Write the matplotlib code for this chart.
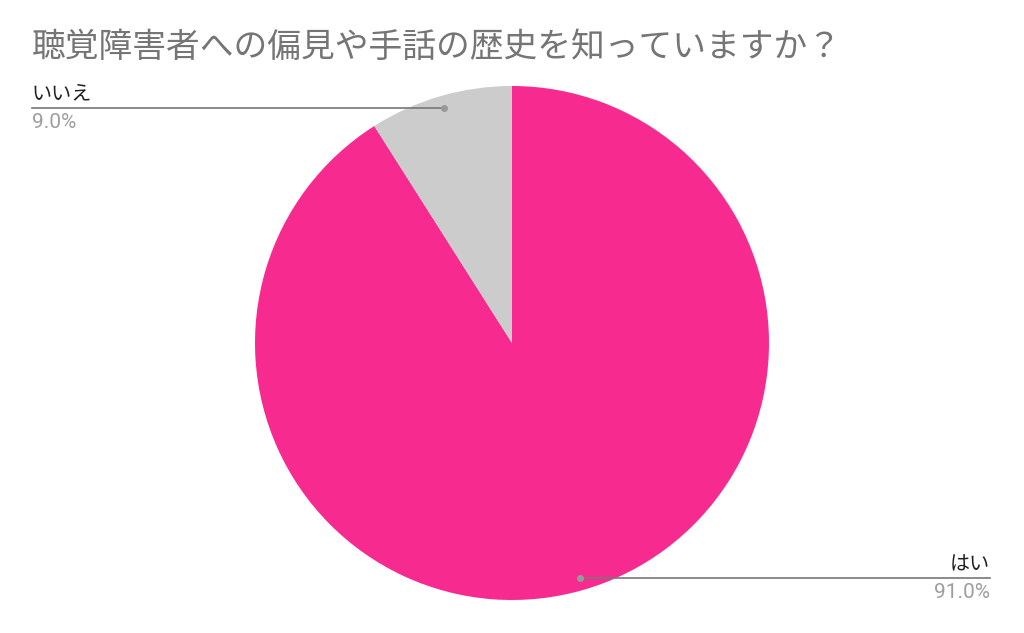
#!/usr/bin/env python3
# Pie chart: 聴覚障害者への偏見や手話の歴史を知っていますか？

import numpy as np
import matplotlib
matplotlib.use("Agg")
from matplotlib import pyplot as plt

plt.rcParams['font.family'] = ['Noto Sans CJK JP', 'DejaVu Sans']

labels = ["はい", "いいえ"]
values = [91.0, 9.0]
colors = ["#F72A8F", "#CCCCCC"]

W, H = 1024, 633
cx, cy, R = 512, 343, 257

fig = plt.figure(figsize=(W / 100, H / 100), dpi=100)
ax = fig.add_axes([(cx - R) / W, (H - cy - R) / H, 2 * R / W, 2 * R / H])

wedges, _ = ax.pie(values, colors=colors, startangle=90, counterclock=False,
                   radius=1, wedgeprops=dict(linewidth=0))
ax.set_xlim(-1, 1)
ax.set_ylim(-1, 1)
ax.set_aspect('auto')
ax.axis("off")

# leader lines and labels
left_x = (32 - cx) / R
right_x = (990 - cx) / R
for w, lab, val in zip(wedges, labels, values):
    mid = np.deg2rad((w.theta1 + w.theta2) / 2)
    px, py = 0.953 * np.cos(mid), 0.953 * np.sin(mid)
    end_x = left_x if px < 0 else right_x
    ha = "left" if px < 0 else "right"
    ax.plot([px, end_x], [py, py], color="#777777", lw=1.2, clip_on=False)
    ax.plot([px], [py], "o", color="#999999", ms=4, clip_on=False)
    ax.text(end_x, py + 0.012, lab, ha=ha, va="bottom", fontsize=14.5,
            color="#222222")
    ax.text(end_x, py - 0.02, f"{val:.1f}%", ha=ha, va="top", fontsize=15,
            color="#9E9E9E", family=["Roboto", "DejaVu Sans"])

fig.text(32 / W, 1 - 47 / H, "聴覚障害者への偏見や手話の歴史を知っていますか？",
         ha="left", va="center", fontsize=24.3, color="#757575")

plt.savefig("out.png", dpi=100, facecolor="white")
